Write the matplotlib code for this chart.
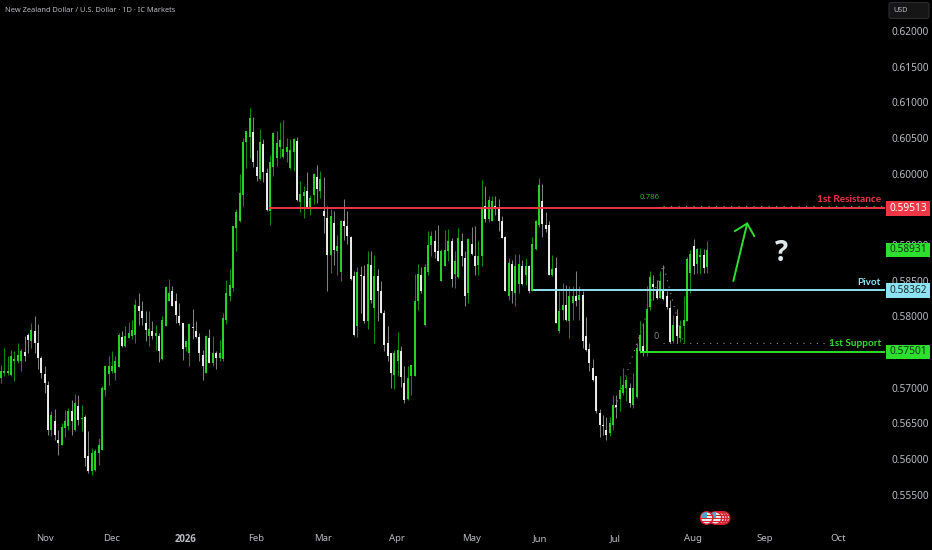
import matplotlib
matplotlib.use("Agg")
import matplotlib.pyplot as plt
import matplotlib.transforms as mtrans
from matplotlib.patches import Rectangle, Circle, FancyBboxPatch
import numpy as np

PIP = 1e-4
highs = [5732,5755,5744,5753,5751,5762,5754,5772,5777,5790,
5801,5789,5745,5730,5709,5667,5670,5641,5651,5669,
5671,5683,5691,5689,5676,5662,5639,5615,5614,5629,
5702,5732,5744,5751,5744,5777,5779,5787,5792,5795,
5824,5832,5821,5808,5807,5794,5788,5777,5801,5842,
5853,5842,5833,5819,5791,5766,5791,5810,5793,5776,
5753,5774,5782,5772,5752,5767,5804,5851,5866,5927,
5951,5999,6050,6060,6092,6080,6033,6062,6048,6008,
6026,6059,6060,6073,6075,6050,6048,6050,6052,5990,
5982,6002,5970,6001,6012,6004,5995,5955,5950,5948,
5914,5935,5964,5948,5913,5863,5869,5870,5872,5892,
5891,5886,5867,5849,5809,5786,5749,5753,5778,5758,
5730,5730,5732,5859,5873,5869,5873,5919,5919,5921,
5928,5894,5921,5923,5910,5891,5924,5917,5891,5910,
5925,5926,5905,5991,5983,5968,5968,5968,5964,5941,
5912,5882,5879,5888,5888,5879,5882,5872,5911,5935,
5994,5985,5946,5934,5886,5883,5835,5847,5844,5842,
5842,5864,5843,5835,5799,5762,5740,5717,5670,5661,
5659,5659,5690,5690,5717,5727,5716,5707,5720,5763,
5793,5791,5842,5863,5858,5851,5863,5872,5835,5823,
5802,5810,5795,5828,5883,5893,5908,5896,5896,5894,5906]
body_tops = [5724,5724,5723,5744,5740,5746,5752,5750,5774,5781,
5779,5762,5741,5719,5704,5662,5653,5626,5645,5653,
5667,5667,5678,5674,5658,5659,5604,5609,5611,5620,
5699,5730,5730,5730,5737,5774,5771,5772,5776,5781,
5816,5815,5807,5790,5782,5780,5776,5772,5795,5841,
5832,5835,5821,5801,5791,5766,5789,5785,5780,5771,
5746,5772,5769,5748,5748,5749,5798,5833,5844,5927,
5946,5973,6044,6060,6078,6059,6009,6045,6042,6001,
6017,6057,6043,6047,6034,6037,6033,6048,6046,5972,
5974,5975,5966,6000,5995,5993,5947,5938,5941,5931,
5898,5934,5933,5927,5911,5856,5862,5858,5856,5874,
5872,5857,5856,5835,5805,5763,5748,5748,5753,5751,
5706,5714,5732,5822,5859,5858,5869,5900,5913,5906,
5891,5891,5893,5905,5905,5878,5910,5905,5882,5909,
5902,5885,5885,5953,5954,5963,5962,5955,5950,5934,
5911,5875,5874,5871,5874,5870,5870,5871,5902,5934,
5984,5961,5928,5928,5866,5868,5807,5816,5816,5828,
5828,5829,5830,5830,5772,5754,5728,5716,5665,5648,
5640,5650,5676,5675,5697,5704,5711,5700,5700,5756,
5774,5758,5810,5855,5845,5838,5849,5835,5828,5812,
5788,5800,5786,5795,5880,5888,5898,5894,5886,5886,5893]
body_bottoms = [5713,5720,5720,5718,5737,5737,5737,5745,5767,5766,
5762,5741,5720,5706,5641,5641,5634,5623,5619,5643,
5646,5653,5641,5655,5656,5601,5583,5583,5584,5609,
5612,5697,5719,5724,5720,5729,5759,5758,5769,5773,
5774,5807,5797,5781,5773,5773,5773,5752,5740,5787,
5822,5815,5802,5791,5754,5757,5749,5783,5771,5749,
5730,5721,5735,5735,5741,5741,5740,5795,5828,5840,
5924,5933,5970,6045,6051,6017,5997,5992,6002,5949,
5947,6010,6022,6037,6023,6030,6008,6030,5963,5960,
5968,5953,5953,5970,5978,5975,5940,5886,5886,5893,
5891,5862,5927,5913,5852,5774,5786,5856,5793,5794,
5823,5812,5835,5805,5760,5744,5720,5718,5737,5715,
5682,5684,5716,5716,5822,5836,5788,5862,5900,5890,
5877,5850,5871,5891,5852,5860,5855,5884,5828,5833,
5888,5871,5872,5885,5936,5936,5934,5950,5934,5910,
5836,5828,5835,5833,5846,5846,5858,5835,5835,5894,
5928,5930,5922,5858,5858,5791,5779,5809,5795,5794,
5818,5821,5823,5765,5753,5735,5711,5667,5648,5646,
5634,5636,5648,5673,5684,5692,5700,5678,5675,5687,
5751,5749,5751,5813,5841,5826,5826,5824,5813,5764,
5765,5773,5770,5786,5794,5861,5870,5874,5883,5868,5869]
lows = [5706,5716,5718,5717,5710,5734,5724,5738,5749,5755,
5749,5726,5713,5692,5634,5632,5626,5606,5619,5631,
5641,5634,5639,5648,5639,5590,5581,5577,5583,5592,
5612,5688,5704,5720,5711,5729,5757,5757,5769,5768,
5762,5788,5788,5766,5759,5768,5753,5736,5739,5787,
5822,5814,5790,5788,5739,5751,5730,5768,5769,5737,
5711,5720,5734,5730,5726,5737,5738,5789,5821,5835,
5891,5932,5955,6008,6022,6009,5990,5991,5988,5948,
5928,5997,6011,6022,6022,6016,6006,6004,5962,5946,
5938,5952,5942,5958,5959,5966,5917,5836,5861,5872,
5858,5849,5907,5902,5851,5773,5771,5805,5791,5782,
5818,5763,5794,5805,5751,5738,5700,5698,5717,5701,
5679,5682,5690,5716,5809,5832,5786,5858,5885,5882,
5877,5849,5870,5877,5841,5840,5854,5870,5815,5819,
5886,5858,5858,5871,5932,5932,5933,5942,5919,5910,
5836,5823,5819,5815,5832,5844,5844,5832,5835,5893,
5925,5911,5918,5858,5857,5790,5777,5795,5794,5770,
5795,5814,5795,5755,5751,5723,5709,5665,5631,5633,
5627,5632,5641,5657,5667,5690,5681,5673,5672,5685,
5749,5744,5744,5809,5823,5824,5826,5823,5810,5763,
5763,5763,5764,5763,5793,5832,5860,5861,5860,5861,5861]
falling_sessions = [8,9,11,12,13,14,15,17,18,22,24,26,27,37,42,43,44,46,48,52,53,54,55,58,59,60,61,63,65,
76,77,79,80,89,92,95,97,98,100,103,104,105,106,108,109,111,113,114,115,116,117,120,121,126,130,131,135,
138,139,141,142,145,148,149,150,151,153,156,158,162,163,164,166,169,172,174,175,176,177,178,179,180,181,
184,188,192,195,196,198,199,200,202,207,210]

month_labels = ["Nov","Dec","2026","Feb","Mar","Apr","May","Jun","Jul","Aug","Sep","Oct"]
month_sessions = [13.1,33,55,75.8,95.8,117.8,139.8,160.3,182.6,205.8,227,248.9]
price_ticks = [0.555,0.56,0.565,0.57,0.575,0.58,0.585,0.59,0.595,0.60,0.605,0.61,0.615,0.62]

resistance, pivot, support, last_close = 0.59513, 0.58362, 0.57501, 0.58931
fib_786, fib_0 = 0.59547, 0.57619
fib_path_sessions = [182.6, 197, 203]
fib_path_prices = [0.56715, 0.58720, 0.57619]
arrow_sessions = [217.8, 221.9]
arrow_prices = [0.58495, 0.59301]
arrow_head_sessions = [218.3, 221.9, 224.0]
arrow_head_prices = [0.59196, 0.59301, 0.59126]

GREEN = "#2de02d"; RED = "#f23645"; CYAN = "#8ce4f2"; TXT = "#b8bbc1"
W, H = 932, 550
plt.rcParams['font.family'] = ['Noto Sans', 'DejaVu Sans']
fig = plt.figure(figsize=(W/100, H/100), dpi=100, facecolor="black")
ax = fig.add_axes([0, 1-521/H, 885/W, 521/H], facecolor="black")

n = len(highs)
assert n == len(body_tops) == len(body_bottoms) == len(lows) == 211
idx = np.arange(n)
hi, lo = np.array(highs)*PIP, np.array(lows)*PIP
tp, bt = np.array(body_tops)*PIP, np.array(body_bottoms)*PIP
down = np.isin(idx+1, falling_sessions)

ax.vlines(idx[~down], lo[~down], hi[~down], color="#128a12", lw=0.75, zorder=2)
ax.vlines(idx[down], lo[down], hi[down], color="#808080", lw=0.75, zorder=2)
ax.vlines(idx[~down], bt[~down], tp[~down], color="#27dc27", lw=1.35, zorder=3)
ax.vlines(idx[down], bt[down], tp[down], color="#f4f4f4", lw=1.35, zorder=3)

ax.set_xlim(-0.297, 262.9)
ax.set_ylim(0.62 - 490/7133, 0.62 + 31/7133)
for s in ax.spines.values():
    s.set_visible(False)
ax.yaxis.tick_right()
ax.set_yticks(price_ticks, [f"{v:.5f}" for v in price_ticks])
ax.set_xticks(month_sessions, month_labels)
ax.tick_params(axis="both", length=0, labelcolor=TXT)
ax.tick_params(axis="y", labelsize=7.3, pad=4.8)
ax.tick_params(axis="x", labelsize=6.9, pad=9.5)
year_label = ax.get_xticklabels()[2]
year_label.set_fontweight("bold")
year_label.set_family("Open Sans")

ax.hlines(resistance, 79.7, 262.9, color=RED, lw=1.4, zorder=4)
ax.hlines(pivot, 158.2, 262.9, color=CYAN, lw=1.4, zorder=4)
ax.hlines(support, 190, 262.9, color=GREEN, lw=1.4, zorder=4)
ax.hlines(fib_786, 197, 262.9, color="#2bb52b", lw=0.9, linestyles=(0, (1, 5)), zorder=1)
ax.hlines(fib_0, 197, 247, color="#8a8a8a", lw=0.8, linestyles=(0, (1, 5)), zorder=1)
ax.plot(fib_path_sessions, fib_path_prices, color="#8a8a8a", lw=0.8, ls=(0, (1, 5)), zorder=1)
ax.text(193, fib_786+0.0012, "0.786", color="#2bb52b", fontsize=5.6, ha="center", va="center")
ax.text(194.8, fib_0+0.00105, "0", color="#808080", fontsize=6.5, ha="center", va="center")

tx = 261.7
for price, label, col in [(resistance+0.00125, "1st Resistance", RED),
                          (pivot+0.00115, "Pivot", CYAN), (support+0.00115, "1st Support", GREEN)]:
    ax.text(tx, price, label, color=col, fontsize=7.2, family="Lato", fontweight="bold", ha="right", va="center")

blend = mtrans.blended_transform_factory(fig.transFigure, ax.transData)
for price, col, tc in [(resistance, RED, "white"), (last_close, GREEN, "#123018"),
                       (pivot, CYAN, "#1c2c30"), (support, GREEN, "#123018")]:
    ax.add_patch(Rectangle((886/W, price-0.00102), 44/W, 0.00204, transform=blend, facecolor=col,
                           edgecolor="none", clip_on=False, zorder=8))
    ax.text(908/W, price, f"{price:.5f}", transform=blend, color=tc, fontsize=7.3, ha="center",
            va="center", clip_on=False, zorder=9)

# arrow and question mark
ax.plot(arrow_sessions, arrow_prices, color=GREEN, lw=1.4, zorder=6, solid_capstyle="round")
ax.plot(arrow_head_sessions, arrow_head_prices, color=GREEN, lw=1.4, zorder=6, solid_joinstyle="miter")
ax.text(232, 0.58874, "?", color="#dfe8ea", fontsize=20, family="Open Sans", fontweight="bold", ha="center", va="center", zorder=6)

# header
fig.text(5/W, 1-10/H, "New Zealand Dollar / U.S. Dollar · 1D · IC Markets", color=TXT, fontsize=5.35, ha="left", va="center")
fig.add_artist(FancyBboxPatch((889/W, 1-18.5/H), 40/W, 16/H, boxstyle="round,pad=0,rounding_size=0.003",
                              transform=fig.transFigure, facecolor="#161616", edgecolor="#2a2c30", lw=0.8))
fig.text(893/W, 1-11/H, "USD", color=TXT, fontsize=5.2, ha="left", va="center")

# economic event markers
ax2 = fig.add_axes([0, 0, 1, 1], facecolor="none")
ax2.set_xlim(0, W); ax2.set_ylim(H, 0); ax2.axis("off")
for k, cx in enumerate([723.5, 721, 718.5, 715.5, 706.7]):
    circ = Circle((cx, 518), 6.2, facecolor="#e8ecf0", edgecolor="#d81f2c", lw=1.1, zorder=k*3)
    ax2.add_patch(circ)
    for dy in (-2.5, 0.5, 3.5):
        stripe = Rectangle((cx-6, 518+dy-0.7), 12, 1.4, facecolor="#d81f2c", edgecolor="none", zorder=k*3+1, clip_path=circ)
        ax2.add_patch(stripe)
    canton = Rectangle((cx-6, 512), 6.2, 5.5, facecolor="#4ba8cc", edgecolor="none", zorder=k*3+2, clip_path=circ)
    ax2.add_patch(canton)

fig.savefig("out.png", dpi=100, facecolor="black")
